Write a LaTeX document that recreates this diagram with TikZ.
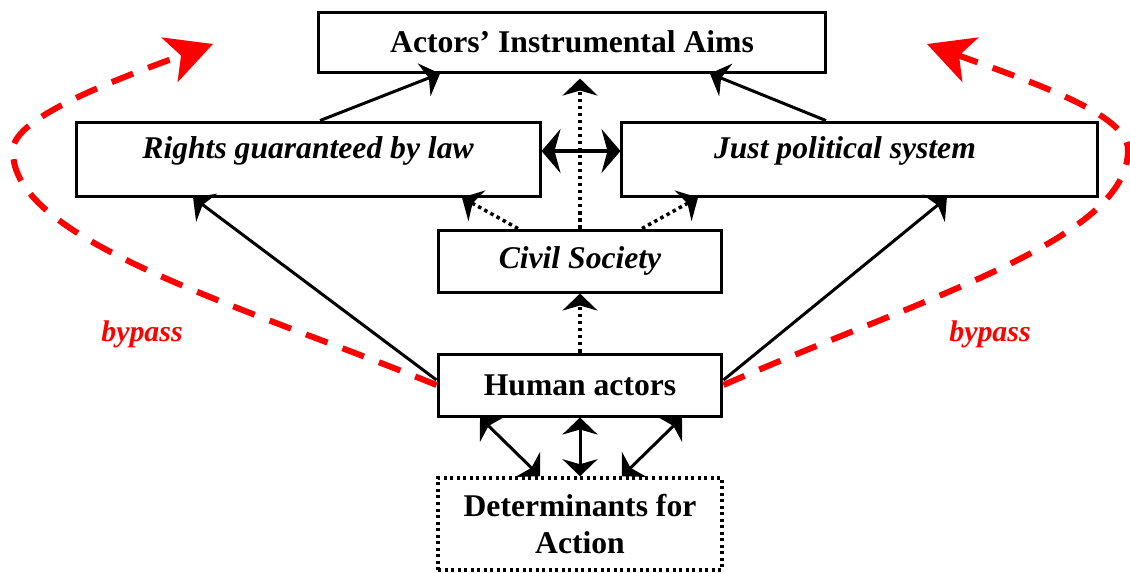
\documentclass[tikz,border=0pt]{standalone}
\usepackage{fontspec}
\setmainfont{Liberation Serif}
\usepackage{tikz}
\usetikzlibrary{arrows.meta}
\usetikzlibrary{positioning}

\begin{document}
\begin{tikzpicture}[
            > = {Stealth[length=0.34cm, width=0.7cm, inset=0.1cm]}, % arrow head style
            x = 0.02cm, y = 0.02cm, % one unit per pixel
            node distance = 2.48cm, % distance between nodes
            line width = 0.06cm % line style
        ]

        \tikzstyle{box}=[
            draw,
            fill = white,
            line width = 0.06cm,
            minimum width = 5.68cm,
            minimum height = 1.24cm,
            font = \fontsize{18}{21}\selectfont\bfseries
        ]
        \tikzstyle{widebox}=[
            box,
            minimum height = 1.48cm,
            text height = 0.42cm,
            text depth = 0.46cm
        ]
        \tikzstyle{dots}=[dotted, line width = 0.07cm]
        \tikzstyle{bypassline}=[
            red,
            line width = 0.12cm,
            dash pattern = on 0.46cm off 0.32cm,
            -{Stealth[length=0.92cm, width=0.94cm, inset=0.24cm]}
        ]

        \useasboundingbox (0,0) rectangle (1130,-572);

	% middle column
        \node[box] (HA) at (580,-385) {Human actors};
        \node[box, node distance=2.48cm, above of=HA] (CS) {\itshape Civil Society};
        \node[box, dots, minimum height=1.84cm, align=center,
              node distance=2.78cm, below of=HA] (DA) {Determinants for\\Action};

         % upper level
         \node[widebox, minimum width=9.28cm, node distance=2.04cm,
               above of=CS, xshift=-5.44cm] (RGT) {\itshape Rights guaranteed by law};
         \node[widebox, minimum width=9.52cm, node distance=2.04cm,
               above of=CS, xshift=5.6cm] (JPS) {\itshape Just political system\kern0.6cm};
         \node[box, minimum width=10.16cm, minimum height=1.2cm, node distance=4.38cm,
               above of=CS, xshift=-0.16cm] (AIM) {Actors' Instrumental Aims};

         \path[->] ([xshift=0.24cm]RGT.north) edge ([xshift=-2.64cm]AIM.south);
         \path[->] ([xshift=-0.68cm]JPS.north) edge ([xshift=2.76cm]AIM.south);
         \path[line width=0.08cm, >={Stealth[length=0.38cm, width=0.88cm, inset=0.12cm]}, <->]
               ([yshift=0.16cm]RGT.east) edge ([yshift=0.16cm]JPS.west);

         % civil society
         \path[dots, ->] (CS.north) edge ([xshift=0.16cm, yshift=-0.1cm]AIM.south);
         \path[dots, ->] ([xshift=-1.24cm]CS.north) edge ([xshift=3.08cm]RGT.south);
         \path[dots, ->] ([xshift=1.24cm]CS.north) edge ([xshift=-3.24cm]JPS.south);
         \path[dots, ->] (HA.north) edge (CS.south);

         % actors
         \path[->] ([yshift=0.1cm]HA.west) edge ([xshift=-2.3cm]RGT.south);
         \path[->] ([yshift=0.1cm]HA.east) edge ([xshift=1.74cm]JPS.south);
         \path[<->] ([xshift=-2cm]HA.south) edge ([xshift=-0.8cm]DA.north);
         \path[<->] (HA.south) edge (DA.north);
         \path[<->] ([xshift=2.04cm]HA.south) edge ([xshift=0.84cm]DA.north);

         % bypass
         \coordinate (LL) at (13,-150);
         \coordinate (LT) at (213,-44);
         \coordinate (RR) at (1128,-150);
         \coordinate (RT) at (927,-44);
         \draw[bypassline] (HA.west) .. controls (240,-305) and (10,-240) .. (LL)
               .. controls (13,-120) and (100,-85) .. (LT);
         \draw[bypassline] (HA.east) .. controls (924,-297) and (1128,-240) .. (RR)
               .. controls (1128,-115) and (1040,-85) .. (RT);
         \node[red, anchor=base, font=\fontsize{17}{20}\selectfont\bfseries\itshape]
               (BL) at (142,-341) {bypass};
         \node[red, anchor=base, font=\fontsize{17}{20}\selectfont\bfseries\itshape]
               (BR) at (990,-341) {bypass};

  \end{tikzpicture}
\end{document}
